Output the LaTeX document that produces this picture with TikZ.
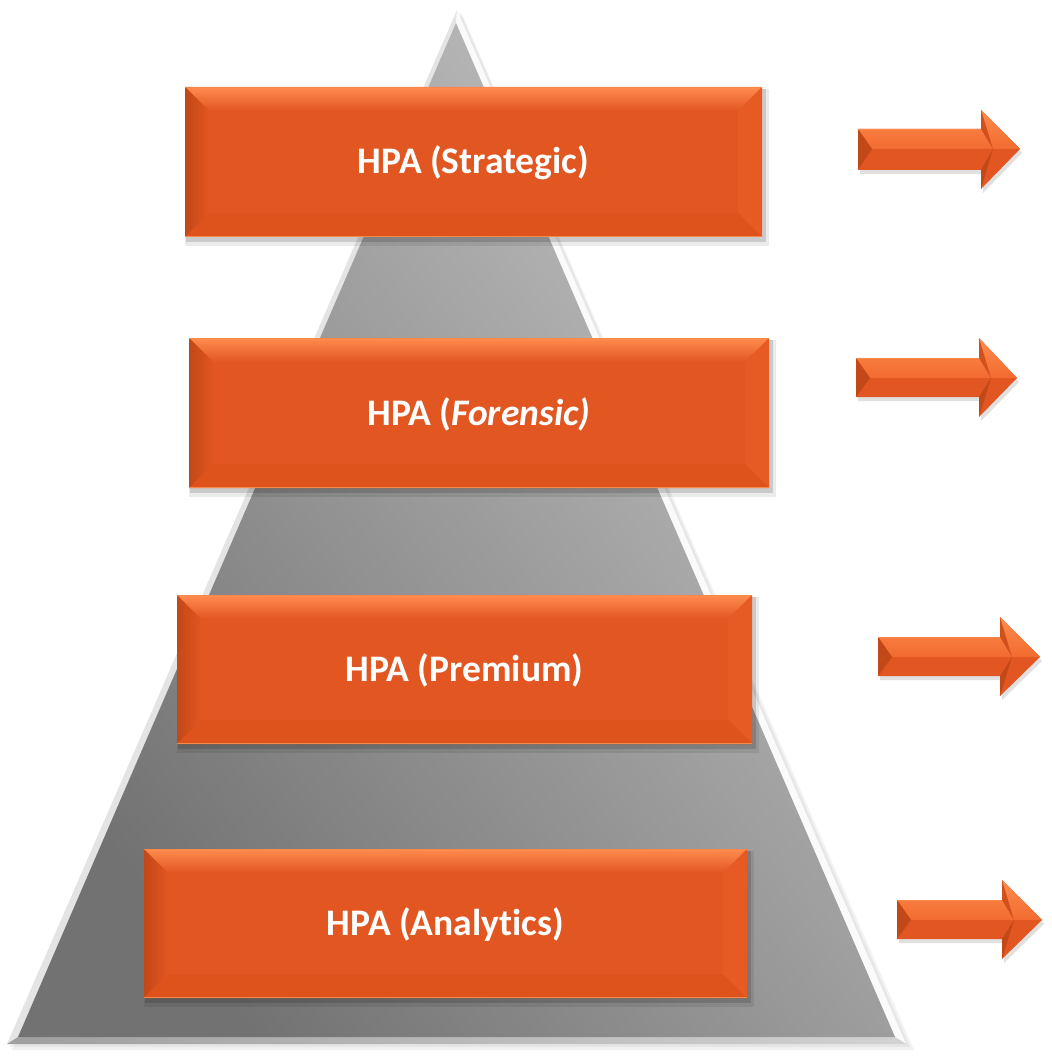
\documentclass[tikz,border=0pt]{standalone}
\usepackage{fontspec}
\setmainfont[Ligatures=NoCommon]{Carlito}
\definecolor{boxmain}{HTML}{E25621}
\definecolor{boxlight}{HTML}{FF8C4E}
\definecolor{boxdark}{HTML}{C24818}
\definecolor{boxright}{HTML}{E65B24}
\definecolor{boxbottom}{HTML}{DE521C}
\definecolor{boxedge}{HTML}{F8874C}
\definecolor{arrowup}{HTML}{F26B30}
\definecolor{arrowstrip}{HTML}{D2501C}
\definecolor{pyrdark}{HTML}{727272}
\definecolor{pyrlight}{HTML}{C2C2C2}
\definecolor{pyrleft}{HTML}{E4E4E4}
\definecolor{pyrright}{HTML}{FAFAFA}
\tikzset{
  boxtext/.style={text=white, font=\bfseries\fontsize{37.5}{44}\selectfont, inner sep=0pt},
}
\def\bv{24}
\def\ae{14}
% name x1 y1 x2 y2 text
\newcommand\bevbox[6]{%
  \fill[black,opacity=0.08] (#2+0,#3+2) rectangle (#4+7,#5+9);
  \fill[black,opacity=0.14] (#2+1,#3+2) rectangle (#4+4,#5+5);
  \fill[boxmain] (#2,#3) rectangle (#4,#5);
  \shade[top color=boxlight, bottom color=boxmain] (#2,#3) -- (#4,#3) -- (#4-\bv,#3+\bv) -- (#2+\bv,#3+\bv) -- cycle;
  \shade[left color=boxdark, right color=boxmain] (#2,#3) -- (#2+\bv,#3+\bv) -- (#2+\bv,#5-\bv) -- (#2,#5) -- cycle;
  \fill[boxright] (#4,#3) -- (#4-\bv,#3+\bv) -- (#4-\bv,#5-\bv) -- (#4,#5) -- cycle;
  \fill[boxbottom] (#2,#5) -- (#2+\bv,#5-\bv) -- (#4-\bv,#5-\bv) -- (#4,#5) -- cycle;
  \draw[boxedge, line width=1.2pt] (#2,#3+0.6) -- (#4,#3+0.6);
  \draw[boxedge, line width=1pt] (#2,#5-0.5) -- (#4,#5-0.5);
  \node[boxtext] (#1) at ({(#2+#4)/2},{(#3+#5)/2+1}) {#6};
}
% xs ys1 ys2 ym xh yh1 yh2 xt
\newcommand\bevarrow[8]{%
  \fill[black,opacity=0.12] (#1+2,#2+4) -- (#5+2,#2+4) -- (#5+2,#6+4) -- (#8+2,#4+4) -- (#5+2,#7+4) -- (#5+2,#3+4) -- (#1+2,#3+4) -- cycle;
  \fill[boxmain] (#1,#2) -- (#5,#2) -- (#5,#6) -- (#8,#4) -- (#5,#7) -- (#5,#3) -- (#1,#3) -- cycle;
  \shade[top color=boxlight, bottom color=arrowup] (#1+\ae,#4) -- (#1,#2) -- (#5,#2) -- (#5,#6) -- (#8,#4) -- cycle;
  \fill[arrowstrip] (#5,#6) -- (#5+\ae-2,#4) -- (#5,#2) -- cycle;
  \fill[boxdark] (#5,#7) -- (#5+\ae-2,#4) -- (#5,#3) -- cycle;
  \fill[boxdark] (#1,#2) -- (#1+\ae,#4) -- (#1,#3) -- cycle;
  \draw[boxedge, line width=1pt] (#1,#2+0.5) -- (#5,#2+0.5);
}
\begin{document}
\begin{tikzpicture}[x=1pt,y=-1pt]
\useasboundingbox (0,0) rectangle (1051,1059);
% pyramid shadow
\fill[black,opacity=0.05] (462,14) -- (914,1050) -- (12,1050) -- cycle;
\fill[black,opacity=0.05] (460,12) -- (910,1047) -- (10,1047) -- cycle;
% pyramid bevel
\fill[pyrleft] (457,10) -- (7,1044) -- (18,1037) -- (456,23) -- cycle;
\fill[pyrright] (457,10) -- (456,23) -- (895,1037) -- (906,1044) -- cycle;
\shade[left color=gray!75, right color=gray!35] (7,1044) -- (906,1044) -- (895,1037) -- (18,1037) -- cycle;
% pyramid face
\shade[top color=pyrlight, bottom color=pyrdark, shading angle=-53] (456,23) -- (18,1037) -- (895,1037) -- cycle;
% boxes
\bevbox{strategic}{185}{87}{762}{237}{HPA (Strategic)}
\bevbox{forensic}{189}{338}{769}{488}{HPA (\textit{Forensic)}}
\bevbox{premium}{177}{595}{752}{744}{HPA (Premium)}
\bevbox{analytics}{144}{849}{747}{998}{HPA (Analytics)}
% arrows
\bevarrow{858}{129}{170}{149}{981}{110}{189}{1020}
\bevarrow{856}{358}{397}{378}{979}{338}{417}{1017}
\bevarrow{878}{637}{676}{657}{1000}{617}{696}{1040}
\bevarrow{897}{900}{939}{920}{1002}{880}{959}{1042}
\end{tikzpicture}
\end{document}
